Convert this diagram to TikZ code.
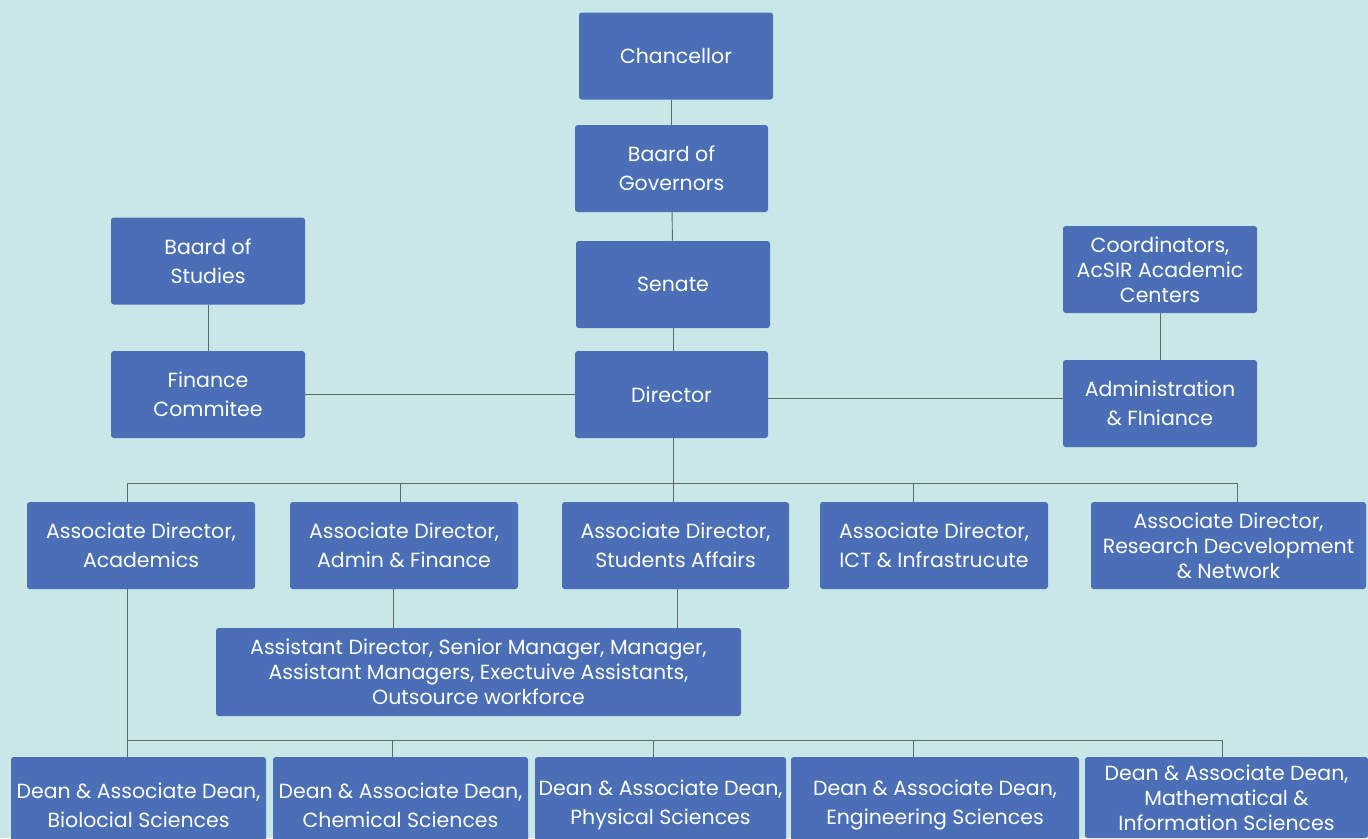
\documentclass[tikz,border=0pt]{standalone}
\usepackage{fontspec}
\setmainfont{Poppins}
\usetikzlibrary{positioning}
\usetikzlibrary{calc}
\definecolor{bgcyan}{HTML}{C8E7E6}
\definecolor{boxblue}{HTML}{4A6FB7}
\definecolor{linkgray}{HTML}{5F6A6A}
\tikzset{every picture/.style={line width=0.9pt},
  unit/.style={fill=boxblue, text=white, rounded corners=0.5ex, align=center, inner sep=0pt, minimum height=87pt, font=\fontsize{20.5}{29}\selectfont},
  tight/.style={font=\fontsize{20.5}{25}\selectfont},
  link/.style={draw=linkgray}}

\begin{document}
\begin{tikzpicture}[x=1pt, y=-1pt]
\fill[bgcyan] (0,0) rectangle (1368,838);
\useasboundingbox (0,0) rectangle (1368,838);
% central column
\node (chan) at (676,56) [unit, minimum width=194pt] {Chancellor};
\node (gov) at (671.5,168.5) [unit, minimum width=193pt] {Baard of\\Governors};
\node (sen) at (673,284.5) [unit, minimum width=194pt] {Senate};
\node (dir) at (671.5,394.5) [unit, minimum width=193pt] {Director};
% left and right branches
\node (stud) at (208,261) [unit, minimum width=194pt] {Baard of\\Studies};
\node (fin) at (208,394.5) [unit, minimum width=194pt] {Finance\\Commitee};
\node (coord) at (1160,269.5) [unit, tight, minimum width=194pt] {Coordinators,\\AcSIR Academic\\Centers};
\node (adm) at (1160,403.5) [unit, minimum width=194pt] {Administration\\\& FIniance};
% associate directors
\node (ada) at (141,545.5) [unit, minimum width=228pt] {Associate Director,\\Academics};
\node (adf) at (404,545.5) [unit, minimum width=228pt] {Associate Director,\\Admin \& Finance};
\node (ads) at (675.5,545.5) [unit, minimum width=227pt] {Associate Director,\\Students Affairs};
\node (adi) at (934,545.5) [unit, minimum width=228pt] {Associate Director,\\ICT \& Infrastrucute};
\node (adr) at (1228.5,545.5) [unit, tight, minimum width=275pt] {Associate Director,\\Research Decvelopment\\\& Network};
\node (asst) at (478.5,672) [unit, tight, minimum width=525pt, minimum height=88pt] {Assistant Director, Senior Manager, Manager,\\Assistant Managers, Exectuive Assistants,\\Outsource workforce};
% deans
\node (dbio) at (138.5,805) [unit, minimum width=255pt, minimum height=96pt] {Dean \& Associate Dean,\\Biolocial Sciences};
\node (dche) at (400.5,805) [unit, minimum width=255pt, minimum height=96pt] {Dean \& Associate Dean,\\Chemical Sciences};
\node (dphy) at (660.5,805) [unit, minimum width=251pt, minimum height=96pt] {Dean \& Associate Dean,\\Physical Sciences};
\node (deng) at (935,805) [unit, minimum width=288pt, minimum height=96pt] {Dean \& Associate Dean,\\Engineering Sciences};
\node (dmat) at (1226.5,797.5) [unit, tight, minimum width=283pt, minimum height=81pt] {Dean \& Associate Dean,\\Mathematical \&\\Information Sciences};
% links
\draw[link] (chan.south -| gov.north) -- (gov.north);
\draw[link] (gov) -- (sen);
\draw[link] (sen.south) -- (sen.south |- dir.north);
\draw[link] (stud) -- (fin);
\draw[link] (coord) -- (adm);
\draw[link] (fin.east) -- (dir.west);
\draw[link] (dir.east |- 0,398) -- (adm.west |- 0,398);
% bus to associate directors
\coordinate (b1) at (127,483);
\coordinate (b2) at (400,483);
\coordinate (b3) at (673,483);
\coordinate (b4) at (913,483);
\coordinate (b5) at (1237,483);
\draw[link] (dir.south -| b3) -- (b3);
\draw[link] (b1) -- (b5);
\draw[link] (b1) -- (b1 |- ada.north);
\draw[link] (b2) -- (b2 |- adf.north);
\draw[link] (b3) -- (b3 |- ads.north);
\draw[link] (b4) -- (b4 |- adi.north);
\draw[link] (b5) -- (b5 |- adr.north);
\draw[link] (adf.south -| 393,0) -- (asst.north -| 393,0);
\draw[link] (ads.south -| 677,0) -- (asst.north -| 677,0);
% bus to deans
\coordinate (c1) at (127,740);
\coordinate (c2) at (392,740);
\coordinate (c3) at (653,740);
\coordinate (c4) at (913,740);
\coordinate (c5) at (1222,740);
\draw[link] (ada.south -| c1) -- (c1);
\draw[link] (c1) -- (c5);
\draw[link] (c1) -- (c1 |- dbio.north);
\draw[link] (c2) -- (c2 |- dche.north);
\draw[link] (c3) -- (c3 |- dphy.north);
\draw[link] (c4) -- (c4 |- deng.north);
\draw[link] (c5) -- (c5 |- dmat.north);
\end{tikzpicture}
\end{document}
